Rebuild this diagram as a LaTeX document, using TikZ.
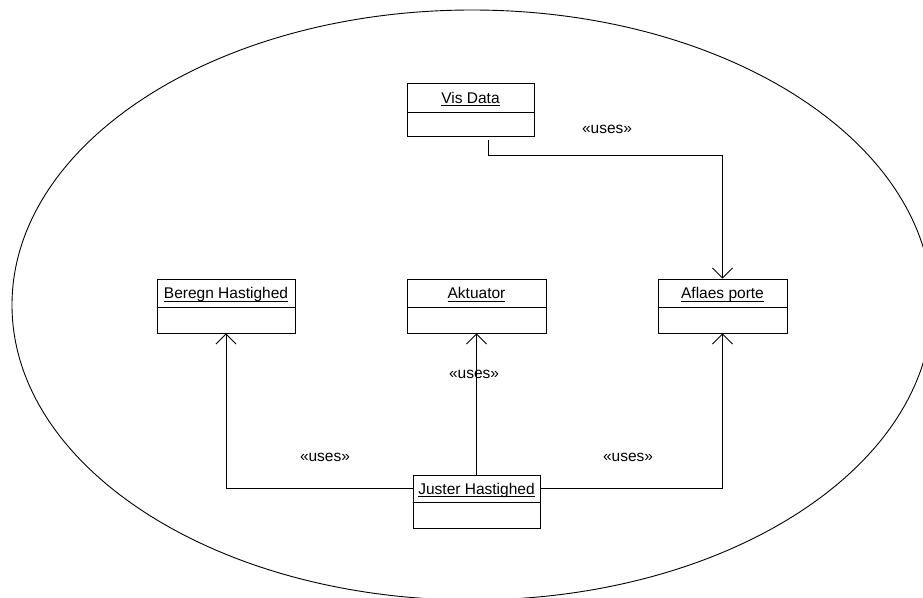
\documentclass[tikz,border=0pt]{standalone}
\usepackage{fontspec}
\setmainfont{Liberation Sans}
\usetikzlibrary{arrows.meta}
% underlined object name, underline sits just below the baseline
\newcommand\objname[1]{\underline{\smash{#1}\rule[-1pt]{0pt}{0pt}}}
\begin{document}
\begin{tikzpicture}[x=1pt,y=-1pt,
  objbox/.style={draw, line width=0.9pt, inner sep=0pt},
  objtitle/.style={inner sep=0pt, anchor=base, font=\fontsize{15.5}{18}\selectfont},
  uses/.style={inner sep=0pt, font=\fontsize{15.5}{18}\selectfont},
  link/.style={line width=0.9pt},
  dep/.style={link, -{Straight Barb[length=10pt,width=20pt]}}]
\useasboundingbox (0,0) rectangle (923,597);

% system boundary
\begin{scope}
  \clip (0,0) rectangle (923,597);
  \draw[line width=0.9pt] (472,305) ellipse [x radius=460pt, y radius=295pt];
\end{scope}

% objects (title compartment + empty attribute compartment)
\node[objbox, minimum width=127pt, minimum height=53pt] (vis) at (470.5,109.5) {};
\draw[link] ([yshift=-30pt]vis.north west) -- ([yshift=-30pt]vis.north east);
\node[objtitle] (vist) at ([yshift=-20.5pt]vis.north) {\objname{Vis Data}};

\node[objbox, minimum width=138pt, minimum height=54pt] (beregn) at (226,306) {};
\draw[link] ([yshift=-29pt]beregn.north west) -- ([yshift=-29pt]beregn.north east);
\node[objtitle] (beregnt) at ([yshift=-20pt]beregn.north) {\objname{Beregn Hastighed}};

\node[objbox, minimum width=139pt, minimum height=54pt] (akt) at (476.5,306) {};
\draw[link] ([yshift=-29pt]akt.north west) -- ([yshift=-29pt]akt.north east);
\node[objtitle] (aktt) at ([yshift=-20pt]akt.north) {\objname{Aktuator}};

\node[objbox, minimum width=129pt, minimum height=54pt] (aflaes) at (722.5,306) {};
\draw[link] ([yshift=-29pt]aflaes.north west) -- ([yshift=-29pt]aflaes.north east);
\node[objtitle] (aflaest) at ([yshift=-20pt]aflaes.north) {\objname{Aflaes porte}};

\node[objbox, minimum width=127pt, minimum height=53pt] (juster) at (476.5,501.5) {};
\draw[link] ([yshift=-28pt]juster.north west) -- ([yshift=-28pt]juster.north east);
\node[objtitle] (justert) at ([yshift=-19.5pt]juster.north) {\objname{Juster Hastighed}};

% uses dependencies
\coordinate (visout) at ([xshift=17.5pt,yshift=-4pt]vis.south);
\draw[dep] (visout) -- ++(0,15) -| (aflaes.north);
\draw[dep] ([yshift=13.5pt]juster.west) -| (beregn.south);
\draw[dep] (juster.north) -- (akt.south);
\draw[dep] ([yshift=13.5pt]juster.east) -| (aflaes.south);

% stereotype labels
\node[uses] (u1) at (607,129) {«uses»};
\node[uses] (u2) at (474,374) {«uses»};
\node[uses] (u3) at (325,457) {«uses»};
\node[uses] (u4) at (628,457) {«uses»};
\end{tikzpicture}
\end{document}
